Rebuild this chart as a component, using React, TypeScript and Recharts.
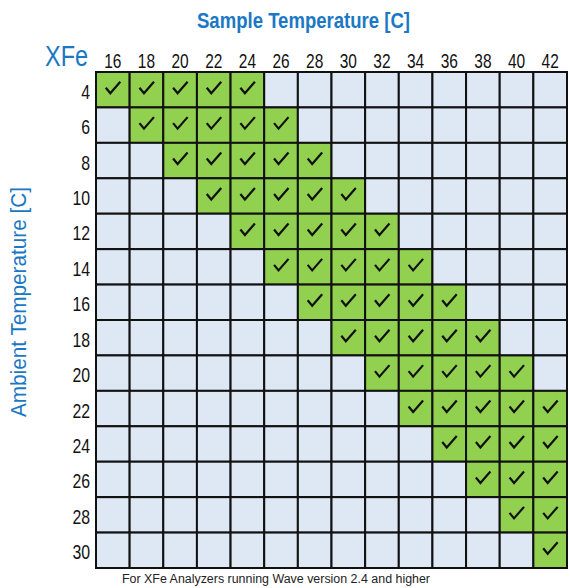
import { ScatterChart, Scatter, XAxis, YAxis } from 'recharts';

// Sample temperatures (columns) and ambient temperatures (rows), in C
const sampleTemps = [16, 18, 20, 22, 24, 26, 28, 30, 32, 34, 36, 38, 40, 42];
const ambientTemps = [4, 6, 8, 10, 12, 14, 16, 18, 20, 22, 24, 26, 28, 30];

// Supported sample temperatures for each ambient temperature row
const supported: number[][] = [
  [16, 18, 20, 22, 24],
  [18, 20, 22, 24, 26],
  [20, 22, 24, 26, 28],
  [22, 24, 26, 28, 30],
  [24, 26, 28, 30, 32],
  [26, 28, 30, 32, 34],
  [28, 30, 32, 34, 36],
  [30, 32, 34, 36, 38],
  [32, 34, 36, 38, 40],
  [34, 36, 38, 40, 42],
  [36, 38, 40, 42],
  [38, 40, 42],
  [40, 42],
  [42],
];

const W = 570;
const H = 588;
const margin = { top: 42, right: 3, bottom: 20, left: 6 };
const X_AXIS_H = 30;
const Y_AXIS_W = 90;
const plotW = W - margin.left - margin.right - Y_AXIS_W;
const plotH = H - margin.top - margin.bottom - X_AXIS_H;
const cellW = plotW / sampleTemps.length;
const cellH = plotH / ambientTemps.length;

const BLUE = '#1b78c4';
const FONT = '"Liberation Sans", Arial, sans-serif';

const cells = ambientTemps.flatMap((amb, i) =>
  sampleTemps.map((s) => ({ x: s, y: amb, ok: supported[i].includes(s) }))
);

const CellShape = (props: any) => {
  const { cx, cy, payload } = props;
  return (
    <g>
      <rect
        x={cx - cellW / 2}
        y={cy - cellH / 2}
        width={cellW}
        height={cellH}
        fill={payload.ok ? '#92d050' : '#dde8f4'}
        stroke="#111"
        strokeWidth={2}
      />
      {payload.ok && (
        <path
          d={`M${cx - 7},${cy - 2} L${cx - 2.5},${cy + 3.5} L${cx + 7.5},${cy - 8}`}
          fill="none"
          stroke="#111"
          strokeWidth={2.2}
          strokeLinejoin="miter"
        />
      )}
    </g>
  );
};

// narrow numeric labels, squeezed to the condensed look of the original
const TopTick = (props: any) => {
  const { x, y, payload } = props;
  const s = String(payload.value);
  return (
    <text x={x} y={y - 4} textAnchor="middle" fill="#111" fontFamily={FONT} fontSize={21}
      textLength={s.length * 8.6} lengthAdjust="spacingAndGlyphs">
      {s}
    </text>
  );
};

const LeftTick = (props: any) => {
  const { x, y, payload } = props;
  const s = String(payload.value);
  return (
    <text x={x} y={y + 9} textAnchor="end" fill="#111" fontFamily={FONT} fontSize={21}
      textLength={s.length * 8.8} lengthAdjust="spacingAndGlyphs">
      {s}
    </text>
  );
};

export default function App() {
  return (
    <div style={{ position: 'absolute', left: 0, top: 0, width: W, height: H, background: '#fff' }}>
      <ScatterChart width={W} height={H} margin={margin}>
        <XAxis
          type="number"
          dataKey="x"
          orientation="top"
          domain={[15, 43]}
          ticks={sampleTemps}
          interval={0}
          height={X_AXIS_H}
          axisLine={false}
          tickLine={false}
          tickSize={0}
          tickMargin={0}
          tick={<TopTick />}
        />
        <YAxis
          type="number"
          dataKey="y"
          reversed
          domain={[3, 31]}
          ticks={ambientTemps}
          interval={0}
          width={Y_AXIS_W}
          axisLine={false}
          tickLine={false}
          tickSize={0}
          tickMargin={6}
          tick={<LeftTick />}
        />
        <Scatter data={cells} shape={<CellShape />} isAnimationActive={false} />
      </ScatterChart>
      <svg width={W} height={H} style={{ position: 'absolute', left: 0, top: 0, pointerEvents: 'none' }}>
        <text x={197} y={28} fill={BLUE} fontFamily={FONT} fontSize={22} fontWeight="bold"
          textLength={213} lengthAdjust="spacingAndGlyphs">
          Sample Temperature [C]
        </text>
        <text x={45} y={66} fill={BLUE} fontFamily={FONT} fontSize={29}
          textLength={43} lengthAdjust="spacingAndGlyphs">
          XFe
        </text>
        <text transform="translate(26, 417) rotate(-90)" fill={BLUE} fontFamily={FONT} fontSize={22}
          textLength={230} lengthAdjust="spacingAndGlyphs">
          Ambient Temperature [C]
        </text>
        <text x={122} y={583} fill="#222" fontFamily={FONT} fontSize={12.5}
          textLength={308} lengthAdjust="spacingAndGlyphs">
          For XFe Analyzers running Wave version 2.4 and higher
        </text>
      </svg>
    </div>
  );
}
